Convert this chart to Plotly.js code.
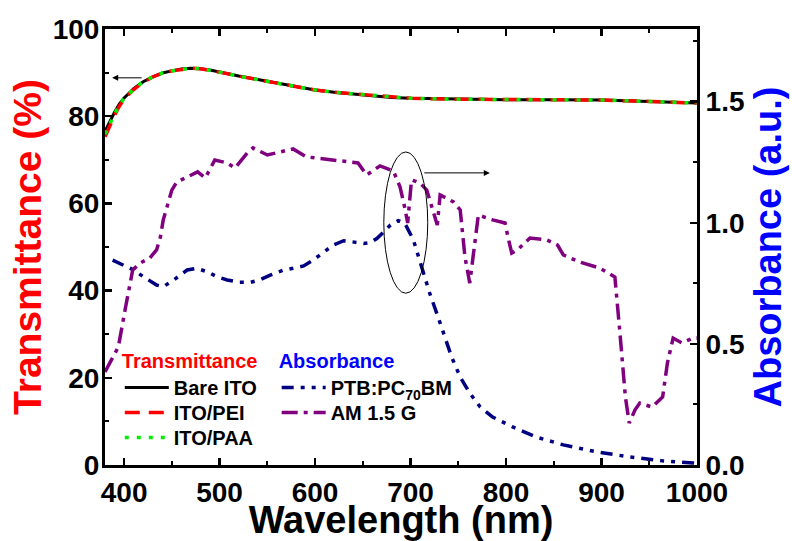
<!DOCTYPE html>
<html>
<head>
<meta charset="utf-8">
<script src="https://cdn.plot.ly/plotly-3.0.1.min.js"></script>
<style>html,body{margin:0;padding:0;background:#fff;}#chart{width:792px;height:541px;}</style>
</head>
<body>
<div id="chart"></div>
<script>
// Transmittance (%) vs wavelength (nm)
const wlT = [380,385,390,395,400,410,420,430,440,450,460,470,480,490,500,520,540,560,580,600,620,640,660,680,700,750,800,850,900,950,1000];
const bareITO = [76.5,78.8,80.9,82.8,84.2,86.3,87.9,89.0,89.9,90.4,90.8,91.0,90.9,90.6,90.1,89.2,88.4,87.6,86.8,86.0,85.5,85.1,84.7,84.3,84.1,83.9,83.8,83.8,83.7,83.4,83.0];
const itoPEI  = [75.3,77.8,80.2,82.3,83.9,86.1,87.8,89.0,89.9,90.4,90.8,91.0,90.9,90.6,90.1,89.2,88.4,87.6,86.8,86.0,85.5,85.1,84.7,84.3,84.1,83.9,83.8,83.8,83.7,83.4,83.0];
const itoPAA  = [75.9,78.3,80.5,82.6,84.1,86.2,87.9,89.0,89.9,90.4,90.8,91.0,90.9,90.6,90.1,89.2,88.4,87.6,86.8,86.0,85.5,85.1,84.7,84.3,84.1,83.9,83.8,83.8,83.7,83.4,83.0];

// Absorbance (a.u.) of PTB:PC70BM
const wlA = [388,410,420,434,441,452,466,476,487,497,508,521,532,542,553,567,577,588,598,609,619,630,640,651,658,665,672,679,687,694,703,713,720,731,743,752,762,773,786,807,832,860,895,930,964,996,1000];
const absPTB = [0.846,0.805,0.778,0.743,0.736,0.764,0.805,0.812,0.798,0.778,0.764,0.754,0.754,0.764,0.784,0.805,0.812,0.822,0.846,0.877,0.908,0.926,0.922,0.915,0.918,0.936,0.963,0.991,1.009,0.998,0.929,0.805,0.710,0.586,0.446,0.363,0.297,0.239,0.198,0.157,0.115,0.083,0.054,0.033,0.017,0.008,0.005];

// AM 1.5 G spectrum (a.u., right axis)
const wlAM = [380,394,401,406,409,417,427,434,438,441,445,450,455,469,477,485,495,508,516,529,535,550,563,577,591,612,633,645,654,668,682,689,694,697,701,710,717,722,728,731,745,752,757,762,766,771,786,799,802,806,812,825,843,854,860,877,898,914,919,925,929,935,940,953,964,969,975,984,996,1000];
const am15g = [0.384,0.488,0.640,0.751,0.805,0.834,0.855,0.888,0.941,1.012,1.065,1.135,1.168,1.197,1.210,1.185,1.259,1.247,1.226,1.288,1.309,1.280,1.292,1.305,1.272,1.263,1.251,1.247,1.197,1.235,1.214,1.148,1.061,0.999,1.177,1.164,1.135,1.065,0.991,1.115,1.086,1.053,0.859,0.751,0.888,1.032,1.012,0.999,0.941,0.875,0.888,0.937,0.929,0.908,0.867,0.838,0.813,0.776,0.558,0.281,0.173,0.227,0.256,0.239,0.281,0.421,0.524,0.504,0.524,0.524];

const FONT = "'Liberation Sans', Arial, Helvetica, sans-serif";
const NB = '\u00A0';

const traces = [
  {x: wlT, y: bareITO, name: 'Bare ITO', type: 'scatter', mode: 'lines',
   line: {color: '#000000', width: 3}, legend: 'legend'},
  {x: wlT, y: itoPEI, name: 'ITO/PEI', type: 'scatter', mode: 'lines',
   line: {color: '#ff0000', width: 3.5, dash: '15px,9px'}, legend: 'legend3'},
  {x: wlT, y: itoPAA, name: 'ITO/PAA', type: 'scatter', mode: 'lines',
   line: {color: '#00ee00', width: 3.5, dash: '4px,8px'}, legend: 'legend4'},
  {x: wlA, y: absPTB, name: 'PTB:PC<sub>70</sub>BM', type: 'scatter', mode: 'lines', yaxis: 'y2',
   line: {color: '#000080', width: 3.5, dash: '12px,7px,4px,7px,4px,7px'}, legend: 'legend2'},
  {x: wlAM, y: am15g, name: 'AM 1.5 G', type: 'scatter', mode: 'lines', yaxis: 'y2',
   line: {color: '#800080', width: 3.5, dash: '16px,6px,4px,6px'}, legend: 'legend5'}
];

const tickFont = {family: FONT, size: 28, color: '#000', weight: 'bold'};
const legFont = {family: FONT, size: 20, color: '#000', weight: 'bold'};

function leg(x, y, title, color) {
  const o = {x: x, y: y, xanchor: 'left', yanchor: 'top', bgcolor: 'rgba(0,0,0,0)',
             borderwidth: 0, font: legFont, itemwidth: 44, tracegroupgap: 0};
  if (title) o.title = {text: title, side: 'top', font: {family: FONT, size: 20, color: color, weight: 'bold'}};
  return o;
}

const layout = {
  width: 792, height: 541,
  margin: {l: 105, r: 95, t: 29, b: 76},
  paper_bgcolor: '#fff', plot_bgcolor: '#fff',
  font: {family: FONT, weight: 'bold'},
  showlegend: true,
  xaxis: {
    range: [380, 1000], tick0: 0, dtick: 100,
    ticks: 'inside', ticklen: 7, tickwidth: 2.5, tickcolor: '#000',
    minor: {dtick: 50, ticks: 'inside', ticklen: 4, tickwidth: 2, tickcolor: '#000'},
    showline: true, linewidth: 3, linecolor: '#000', mirror: 'ticks',
    showgrid: false, zeroline: false,
    tickfont: tickFont,
    title: {text: 'Wavelength (nm)', font: {family: FONT, size: 38, color: '#000', weight: 'bold'}, standoff: 2}
  },
  yaxis: {
    range: [0, 100], dtick: 20,
    ticks: 'inside', ticklen: 7, tickwidth: 2.5, tickcolor: '#000',
    minor: {dtick: 10, ticks: 'inside', ticklen: 4, tickwidth: 2, tickcolor: '#000'},
    showline: true, linewidth: 3, linecolor: '#000',
    showgrid: false, zeroline: false,
    tickfont: tickFont, ticklabelstandoff: -3,
    title: {text: 'Transmittance (%)' + NB + NB, font: {family: FONT, size: 39, color: '#ff0000', weight: 'bold'}, standoff: 0}
  },
  yaxis2: {
    overlaying: 'y', side: 'right',
    range: [0, 1.8], dtick: 0.5, tickformat: '.1f',
    ticks: 'inside', ticklen: 7, tickwidth: 2.5, tickcolor: '#000',
    minor: {dtick: 0.25, ticks: 'inside', ticklen: 4, tickwidth: 2, tickcolor: '#000'},
    showline: true, linewidth: 3, linecolor: '#000',
    showgrid: false, zeroline: false,
    tickfont: tickFont,
    title: {text: NB + NB + NB + NB + 'Absorbance (a.u.)', font: {family: FONT, size: 38, color: '#0000ff', weight: 'bold'}, standoff: 11}
  },
  legend:  leg(0.025, 0.282, 'Transmittance', '#ff0000'),
  legend3: leg(0.025, 0.165),
  legend4: leg(0.025, 0.108),
  legend2: leg(0.290, 0.282, 'Absorbance', '#0000ff'),
  legend5: leg(0.290, 0.165),
  shapes: [
    {type: 'circle', xref: 'x', yref: 'y', x0: 672, x1: 718, y0: 39.4, y1: 71.8,
     line: {color: '#000', width: 1}}
  ],
  annotations: [
    {x: 783, y: 67, xref: 'x', yref: 'y', ax: -67, ay: 0, text: '', showarrow: true,
     arrowhead: 2, arrowsize: 1.2, arrowwidth: 1, arrowcolor: '#000'},
    {x: 387.5, y: 88.8, xref: 'x', yref: 'y', ax: 31, ay: 0, text: '', showarrow: true,
     arrowhead: 2, arrowsize: 1.2, arrowwidth: 1, arrowcolor: '#000'}
  ]
};

Plotly.newPlot('chart', traces, layout, {displayModeBar: false, staticPlot: true});
</script>
</body>
</html>
